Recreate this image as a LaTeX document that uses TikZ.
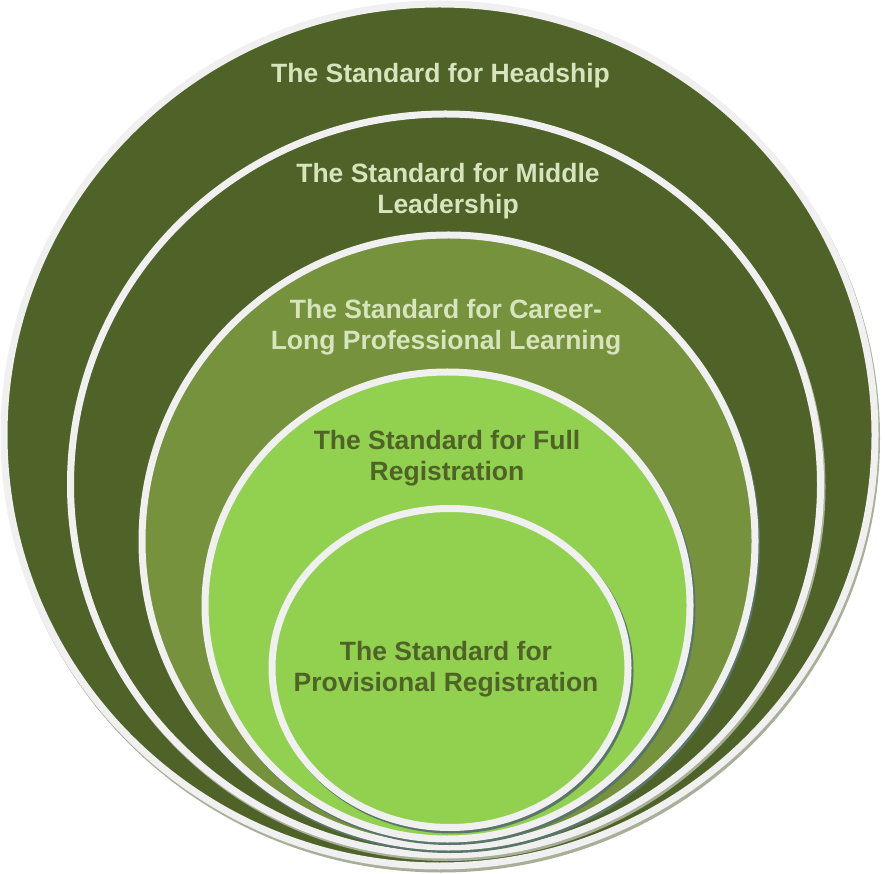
\documentclass[tikz,border=0pt]{standalone}
\usepackage{fontspec}
\setmainfont{Liberation Sans}
\definecolor{darkolive}{HTML}{4F6228}
\definecolor{midolive}{HTML}{76923C}
\definecolor{lightgreen}{HTML}{92D050}
\definecolor{ringwhite}{HTML}{F0F0F0}
\definecolor{palegreen}{HTML}{D7E4BD}
\definecolor{outershadow}{HTML}{A7AF98}
\definecolor{innershadow}{HTML}{5B7568}
\begin{document}
\begin{tikzpicture}[x=1pt,y=1pt,
  ring/.style={draw=ringwhite,line width=7pt},
  ringshadow/.style={draw=#1,line width=7pt},
  lbl/.style={font=\fontsize{26.5}{31}\selectfont\bfseries,align=center,inner sep=0pt},
  lightlbl/.style={lbl,text=palegreen},
  darklbl/.style={lbl,text=darkolive}]
\useasboundingbox (0,0) rectangle (885,873);
% outer: Headship
\draw[ringshadow=outershadow] (441,435) ellipse [x radius=435.5,y radius=431];
\filldraw[ring,fill=darkolive] (439.5,438) ellipse [x radius=435.5,y radius=431];
% Middle leadership
\draw[ringshadow=outershadow] (447,386) ellipse [x radius=375,y radius=370.5];
\filldraw[ring,fill=darkolive] (445.5,388.5) ellipse [x radius=375,y radius=370.5];
% Career-long
\draw[ringshadow=innershadow] (450,329.5) ellipse [x radius=306.5,y radius=306];
\filldraw[ring,fill=midolive] (448.5,332) ellipse [x radius=306.5,y radius=306];
% Full registration
\draw[ringshadow=innershadow] (449.5,265) ellipse [x radius=242.5,y radius=233.5];
\filldraw[ring,fill=lightgreen] (447.5,267.5) ellipse [x radius=242.5,y radius=233.5];
% Provisional registration
\draw[ringshadow=innershadow] (452,202.5) ellipse [x radius=178,y radius=159.5];
\filldraw[ring,fill=lightgreen] (450,205) ellipse [x radius=178,y radius=159.5];
% labels
\node[lightlbl] (head) at (440.5,797) {The Standard for Headship};
\node[lightlbl] (middle) at (448,682) {The Standard for Middle\\Leadership};
\node[lightlbl] (career) at (446,546) {The Standard for Career-\\Long Professional Learning};
\node[darklbl] (full) at (447,415) {The Standard for Full\\Registration};
\node[darklbl] (prov) at (446,204) {The Standard for\\Provisional Registration};
\end{tikzpicture}
\end{document}
